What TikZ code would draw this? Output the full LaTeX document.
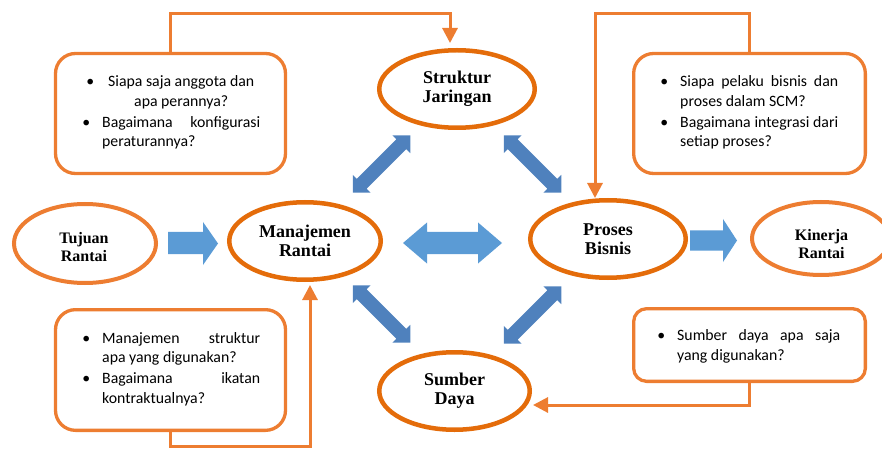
\documentclass[tikz,border=0pt]{standalone}
\usepackage{fontspec}
\setmainfont{Liberation Serif}
\newfontfamily\boxfont{Carlito}
\usetikzlibrary{shapes.geometric,arrows.meta}
\definecolor{orD}{HTML}{E46C0A}
\definecolor{orL}{HTML}{ED7D31}
\definecolor{blL}{HTML}{5B9BD5}
\definecolor{blD}{HTML}{4F81BD}
% double block arrow: x, y, angle, half length, body half width, head half width, head length, colour
\newcommand\dblarr[8]{%
  \begin{scope}[shift={(#1,#2)},rotate=#3]
    \fill[#8] (-#4,0) -- (-#4+#7,#6) -- (-#4+#7,#5) -- (#4-#7,#5) -- (#4-#7,#6) -- (#4,0)
      -- (#4-#7,-#6) -- (#4-#7,-#5) -- (-#4+#7,-#5) -- (-#4+#7,-#6) -- cycle;
  \end{scope}}
\newcommand\bul[1]{\llap{•\hspace{#1}}}
\tikzset{
  mainell/.style={ellipse, draw=orD, line width=4.5pt, fill=white, inner sep=0pt, align=center,
    minimum height=77.5pt, font=\fontsize{18}{19}\selectfont\bfseries},
  sideell/.style={ellipse, draw=orL, line width=4pt, fill=white, inner sep=0pt},
  sidetext/.style={inner sep=0pt, align=center, font=\fontsize{16}{18}\selectfont\bfseries},
  qbox/.style={draw=orL, line width=3.3pt, rounded corners=20pt, fill=white, inner sep=0pt},
  qtext/.style={anchor=base west, inner sep=0pt, align=left,
    font=\boxfont\fontsize{15.8}{19.5}\selectfont},
  conn/.style={draw=orL, line width=3pt, -{Triangle[width=15pt,length=15pt]}},
}
\begin{document}
\begin{tikzpicture}[x=1pt,y=1pt]
\useasboundingbox (0,0) rectangle (882,450);

% blue block arrows
\fill[blL] (168,196) -- (203,196) -- (203,185) -- (218,206.5) -- (203,228) -- (203,218) -- (168,218) -- cycle;
\fill[blL] (690,199.5) -- (723,199.5) -- (723,188) -- (737,209.5) -- (723,231) -- (723,219.5) -- (690,219.5) -- cycle;
\dblarr{452.5}{207}{0}{49.5}{11}{20.5}{24}{blL}
\dblarr{381.5}{286}{45}{40.65}{7}{12.7}{12.7}{blD}
\dblarr{532.5}{286}{-45}{40.65}{7}{12.7}{12.7}{blD}
\dblarr{381.5}{136}{-45}{40.65}{7}{12.7}{12.7}{blD}
\dblarr{532.5}{135}{45}{40.65}{7}{12.7}{12.7}{blD}

% ellipses
\node[mainell, minimum width=151.5pt] (man) at (305,209) {Manajemen\\Rantai};
\node[mainell, minimum width=155.5pt] (str) at (457,361) {Struktur\\Jaringan};
\node[mainell, minimum width=155.5pt] (pro) at (608,211) {Proses\\Bisnis};
\node[mainell, minimum width=150.5pt] (sum) at (454.5,59) {Sumber\\Daya};
\node[sideell, minimum width=142pt, minimum height=79pt] (tuj) at (85,206.5) {};
\node[sidetext] (tujt) at (84,202.5) {Tujuan\\Rantai};
\node[sideell, minimum width=138pt, minimum height=73pt] (kin) at (821,211.5) {};
\node[sidetext] (kint) at (821.5,205.5) {Kinerja\\Rantai};

% question boxes
\node[qbox, minimum width=230pt, minimum height=120pt] (tl) at (170.5,336.5) {};
\node[qbox, minimum width=231.7pt, minimum height=120pt] (tr) at (749.5,336.5) {};
\node[qbox, minimum width=230pt, minimum height=120.7pt] (bl) at (170.5,80) {};
\node[qbox, rounded corners=13pt, minimum width=231.7pt, minimum height=72.7pt] (br) at (749.5,105) {};

\node[qtext] (tlt) at (102,303) {\bul{8pt}\makebox[158pt][c]{Siapa saja anggota dan}\\
  \makebox[158pt][c]{apa perannya?}\\[1.5pt]
  \bul{12pt}\makebox[158pt][s]{Bagaimana konfigurasi}\\
  peraturannya?};
\node[qtext] (trt) at (680,303) {\bul{12pt}\makebox[158pt][s]{Siapa pelaku bisnis dan}\\
  proses dalam SCM?\\[1.5pt]
  \bul{12pt}\makebox[158pt][s]{Bagaimana integrasi dari}\\
  setiap proses?};
\node[qtext] (blt) at (102,47) {\bul{12pt}\makebox[158pt][s]{Manajemen struktur}\\
  apa yang digunakan?\\[1.5pt]
  \bul{12pt}\makebox[158pt][s]{Bagaimana ikatan}\\
  kontraktualnya?};
\node[qtext] (brt) at (677,90) {\bul{12pt}\makebox[163pt][s]{Sumber daya apa saja}\\
  yang digunakan?};

% connectors
\coordinate (t1) at (450,407);
\coordinate (t2) at (595,252);
\coordinate (t3) at (310,165);
\coordinate (t4) at (533,45);
\draw[conn] (tl.north) -- ++(0,38) -| (t1);
\draw[conn] (tr.north) -- ++(0,38) -| (t2);
\draw[conn] (bl.south) -- ++(0,-14) -| (t3);
\draw[conn] (br.south) |- (t4);
\end{tikzpicture}
\end{document}
